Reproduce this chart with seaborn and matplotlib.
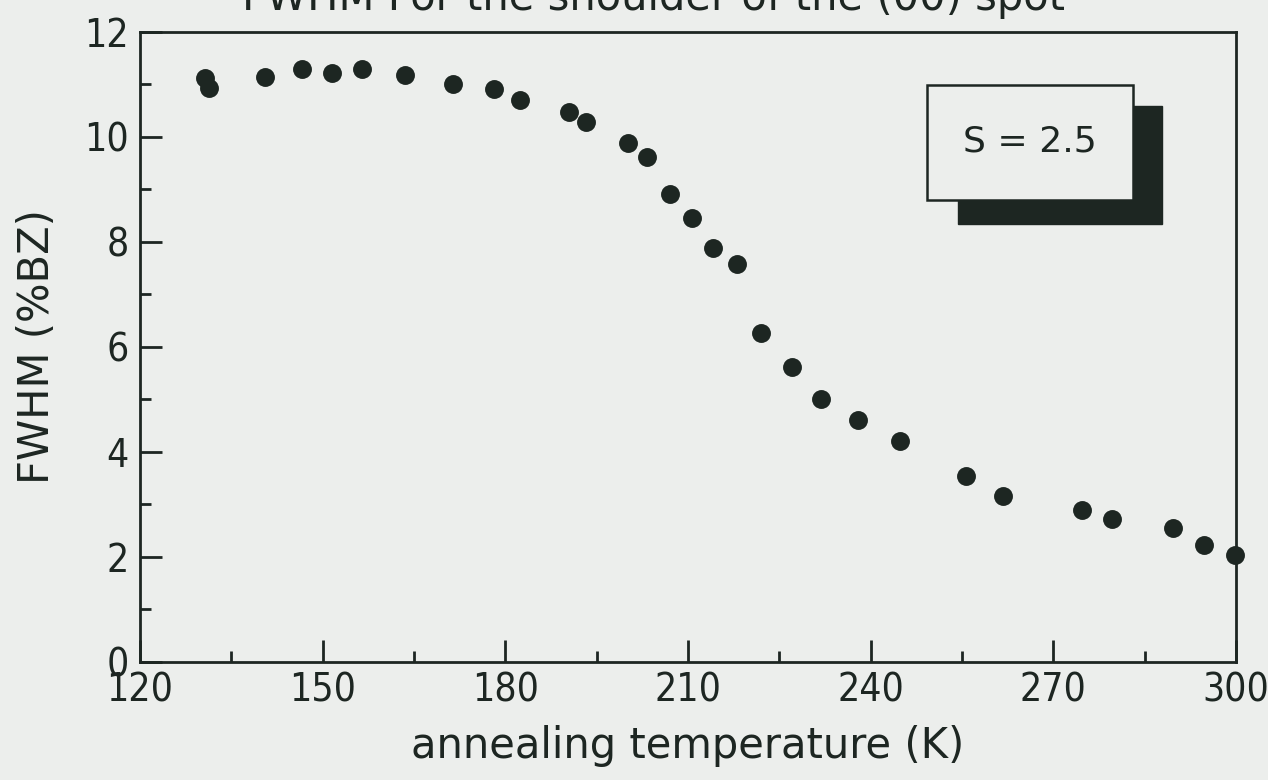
import numpy as np
import pandas as pd
import matplotlib
matplotlib.use("Agg")
import matplotlib.pyplot as plt
from matplotlib.patches import Rectangle
from matplotlib.ticker import MultipleLocator
import seaborn as sns

# annealing temperature (K) and FWHM of the shoulder (% of Brillouin zone)
temperature = [130.7, 131.3, 140.5, 146.6, 151.6, 156.5, 163.5, 171.4, 178.2,
               182.4, 190.4, 193.3, 200.1, 203.2, 207.1, 210.7, 214.1, 218.0,
               222.0, 227.0, 231.9, 237.9, 244.8, 255.7, 261.8, 274.7, 279.7,
               289.7, 294.8, 299.8]
fwhm = [11.12, 10.93, 11.15, 11.30, 11.22, 11.30, 11.19, 11.01, 10.91,
        10.70, 10.48, 10.29, 9.89, 9.61, 8.92, 8.45, 7.89, 7.59,
        6.27, 5.61, 5.00, 4.61, 4.21, 3.54, 3.16, 2.90, 2.72,
        2.55, 2.22, 2.04]
x_ticks = [120, 150, 180, 210, 240, 270, 300]
y_ticks = [0, 2, 4, 6, 8, 10, 12]
step_label = "S = 2.5"

df = pd.DataFrame({"T": temperature, "FWHM": fwhm})

sns.set_theme(style="ticks")
plt.rcParams["font.family"] = ["DejaVu Sans"]

bg = "#eceeec"
ink = "#1d2622"

fig = plt.figure(figsize=(12.68, 7.8), dpi=100, facecolor=bg)
ax = fig.add_axes([0.1104, 0.1513, 0.8644, 0.8077], facecolor=bg)

sns.scatterplot(data=df, x="T", y="FWHM", ax=ax, s=185, color=ink,
                edgecolor=ink, linewidth=0, clip_on=False, zorder=5)

ax.set_xlim(120, 300)
ax.set_ylim(0, 12)
ax.set_xticks(x_ticks)
ax.set_yticks(y_ticks)
ax.xaxis.set_minor_locator(MultipleLocator(15))
ax.yaxis.set_minor_locator(MultipleLocator(1))

for s in ax.spines.values():
    s.set_color(ink)
    s.set_linewidth(2)

ax.tick_params(axis="both", which="major", direction="in", length=16, width=2,
               color=ink, labelsize=28, labelcolor=ink)
ax.tick_params(axis="both", which="minor", direction="in", length=8, width=2,
               color=ink)
ax.tick_params(axis="x", which="major", pad=7)
ax.tick_params(axis="y", which="major", pad=8)
ax.tick_params(top=False, right=False, which="both")
for lbl in ax.get_xticklabels() + ax.get_yticklabels():
    lbl.set_fontstretch("condensed")

ax.set_xlabel("annealing temperature (K)", fontsize=30, color=ink)
ax.set_ylabel("FWHM (%BZ)", fontsize=30, color=ink)
ax.xaxis.set_label_coords(0.5, -0.1)
ax.yaxis.set_label_coords(-0.075, 0.5)

# parameter box with a drop shadow
ax.add_patch(Rectangle((0.746, 0.695), 0.1865, 0.1875, transform=ax.transAxes,
                       facecolor=ink, edgecolor=ink, zorder=6))
ax.add_patch(Rectangle((0.718, 0.733), 0.188, 0.183, transform=ax.transAxes,
                       facecolor=bg, edgecolor=ink, linewidth=1.8, zorder=7))
ax.text(0.812, 0.826, step_label, transform=ax.transAxes, ha="center",
        va="center", fontsize=26, color=ink, zorder=8)

fig.text(0.515, 0.987, "FWHM For the shoulder of the (00) spot", ha="center",
         va="baseline", fontsize=30, color=ink)

fig.savefig("out.png", dpi=100, facecolor=bg)
